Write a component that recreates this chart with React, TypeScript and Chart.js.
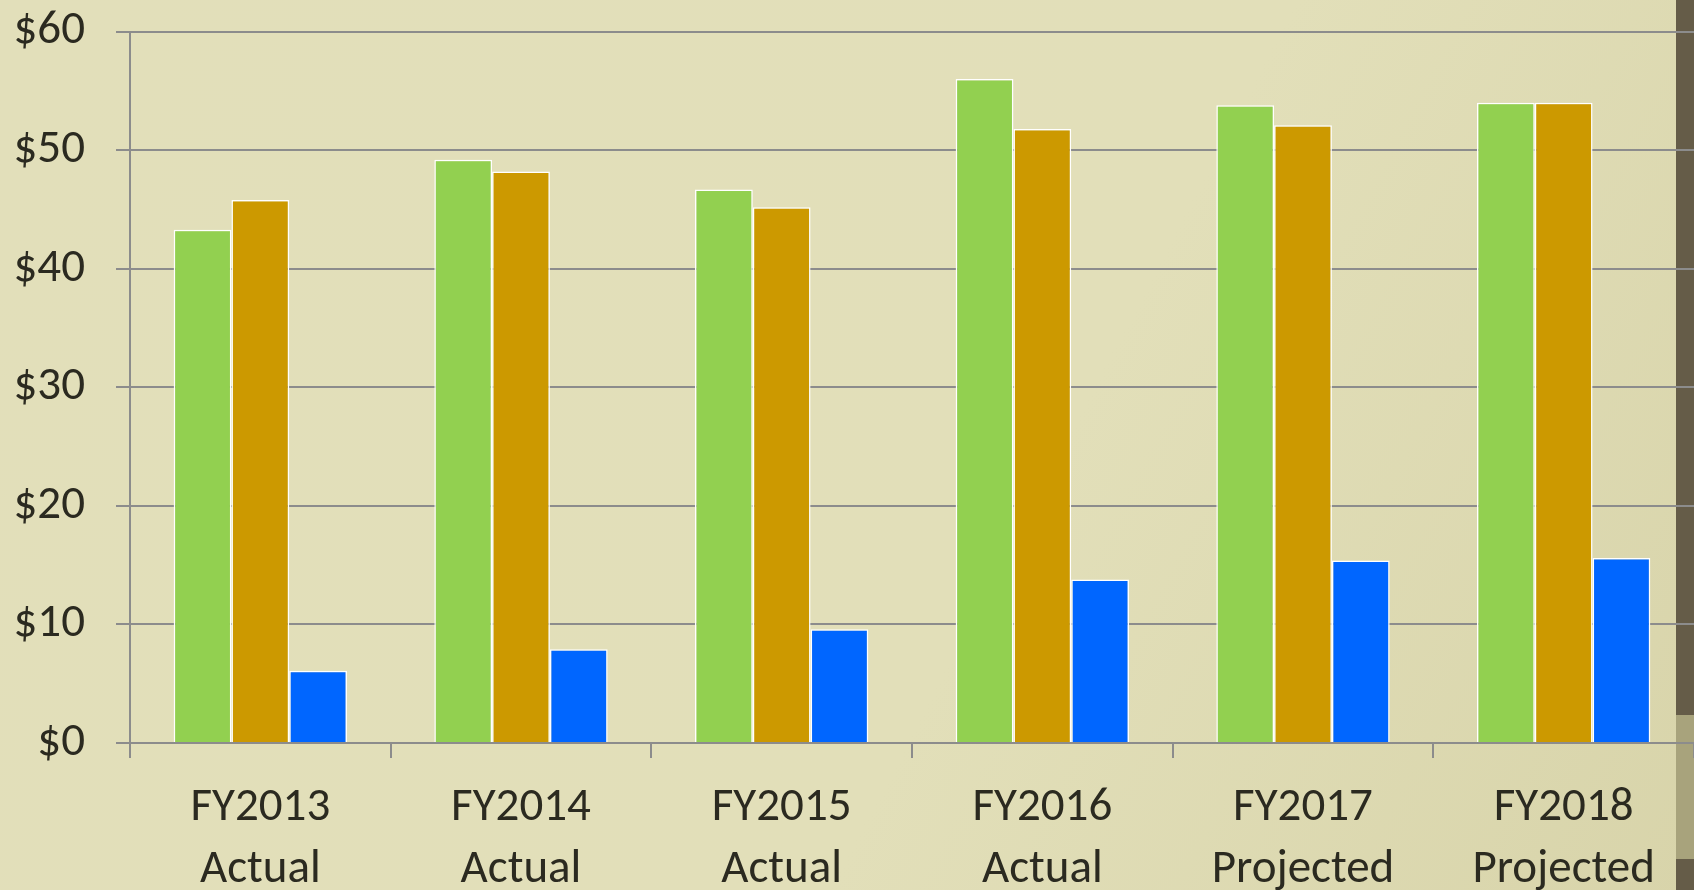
import React, { useEffect, useRef } from 'react';
import { Chart, registerables } from 'chart.js';

Chart.register(...registerables);

const categories: string[][] = [
  ['FY2013', 'Actual'],
  ['FY2014', 'Actual'],
  ['FY2015', 'Actual'],
  ['FY2016', 'Actual'],
  ['FY2017', 'Projected'],
  ['FY2018', 'Projected'],
];
const greenValues = [43.3, 49.2, 46.7, 56.0, 53.8, 54.0];
const goldValues = [45.8, 48.2, 45.2, 51.8, 52.1, 54.0];
const blueValues = [6.1, 7.9, 9.6, 13.8, 15.4, 15.6];
const yMin = 0;
const yMax = 60;
const yStep = 10;
const tickPrefix = '$';

const W = 1694;
const H = 890;

const backgroundPlugin = {
  id: 'slideBackground',
  beforeDraw(chart: any) {
    const ctx = chart.ctx;
    ctx.save();
    const g = ctx.createLinearGradient(0, 0, W, H);
    g.addColorStop(0, '#E2DFBA');
    g.addColorStop(0.6, '#E2DFB9');
    g.addColorStop(1, '#D8D4AA');
    ctx.fillStyle = g;
    ctx.fillRect(0, 0, W, H);
    // decorative strip at right edge
    ctx.fillStyle = '#655C48';
    ctx.fillRect(1676, 0, W - 1676, 715);
    ctx.fillStyle = '#A8A37C';
    ctx.fillRect(1676, 715, W - 1676, 144);
    ctx.fillStyle = '#655C48';
    ctx.fillRect(1676, 859, W - 1676, H - 859);
    ctx.restore();
  },
};

export default function App() {
  const ref = useRef<HTMLCanvasElement | null>(null);
  useEffect(() => {
    if (!ref.current) return;
    const fam = 'Carlito, Lato, sans-serif';
    const chart = new Chart(ref.current, {
      type: 'bar',
      data: {
        labels: categories,
        datasets: [
          { data: greenValues, backgroundColor: '#92D050', borderColor: '#FFFFFF', borderWidth: 1.5 },
          { data: goldValues, backgroundColor: '#CC9900', borderColor: '#FFFFFF', borderWidth: 1.5 },
          { data: blueValues, backgroundColor: '#0066FF', borderColor: '#FFFFFF', borderWidth: 1.5 },
        ],
      },
      options: {
        animation: false,
        responsive: false,
        devicePixelRatio: 1,
        layout: { padding: { top: 0, right: 0, bottom: 0, left: 0 } },
        plugins: { legend: { display: false }, tooltip: { enabled: false }, title: { display: false } },
        datasets: { bar: { categoryPercentage: 0.665, barPercentage: 1 } },
        scales: {
          x: {
            offset: true,
            grid: { display: true, drawOnChartArea: false, drawTicks: true, tickLength: 15, color: '#8C8C8C', lineWidth: 2 },
            border: { display: true, color: '#8C8C8C', width: 2 },
            ticks: { color: '#2B2A20', font: { family: fam, size: 47, lineHeight: 1.32 }, padding: 19, maxRotation: 0, minRotation: 0, autoSkip: false },
            afterFit(scale: any) {
              scale.height = H - 743;
            },
          },
          y: {
            min: yMin,
            max: yMax,
            grid: { color: '#8C8C8C', lineWidth: 2, tickLength: 14, drawTicks: true },
            border: { display: true, color: '#8C8C8C', width: 2 },
            ticks: {
              stepSize: yStep,
              color: '#2B2A20',
              font: { family: fam, size: 47, lineHeight: 0.03 },
              padding: 31,
              callback: (v: any) => tickPrefix + v,
            },
            afterFit(scale: any) {
              scale.width = 130;
            },
          },
        },
      },
      plugins: [backgroundPlugin],
    });
    return () => chart.destroy();
  }, []);
  return (
    <div style={{ position: 'absolute', left: 0, top: 0, width: W, height: H, overflow: 'hidden' }}>
      <canvas ref={ref} width={W} height={H} style={{ display: 'block', width: W, height: H }} />
    </div>
  );
}
